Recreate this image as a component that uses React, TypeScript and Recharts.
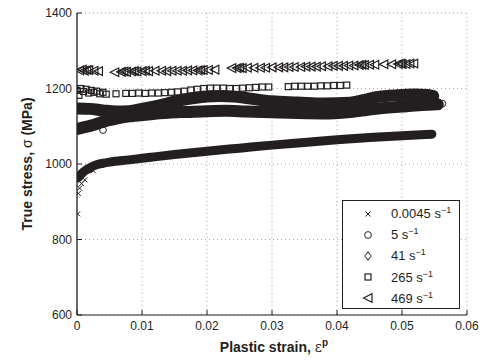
import { CartesianGrid, Label, Legend, Scatter, ScatterChart, XAxis, YAxis } from "recharts"

const INK = "#231f20"
const FONT = "'Liberation Sans', Arial, Helvetica, sans-serif"

const X_TICKS = [0, 0.01, 0.02, 0.03, 0.04, 0.05, 0.06]
const Y_TICKS = [600, 800, 1000, 1200, 1400]

// [plastic strain, true stress MPa]
// 0.0045 /s : dense band, plus a few scattered points at the very start
const rateSlowBand: [number, number][] = [
    [0, 962], [0.0003, 966], [0.0006, 972], [0.001, 979], [0.0015, 985], [0.002, 990],
    [0.003, 998], [0.004, 1002], [0.005, 1005], [0.008, 1011], [0.011, 1017], [0.015, 1025],
    [0.02, 1034], [0.025, 1042], [0.03, 1050], [0.035, 1057], [0.04, 1064], [0.045, 1070],
    [0.05, 1075], [0.0546, 1079],
]
const rateSlowScatter: [number, number][] = [
    [0.0001, 868], [0.0002, 922], [0.0004, 936], [0.0007, 948], [0.0012, 958], [0.0025, 982],
]

// 5 /s
const rate5Band: [number, number][] = [
    [0, 1093], [0.001, 1097], [0.002, 1101], [0.003, 1106], [0.004, 1112], [0.006, 1120],
    [0.008, 1126], [0.01, 1130], [0.012, 1133], [0.014, 1136], [0.017, 1138], [0.02, 1140],
    [0.023, 1141], [0.026, 1139], [0.03, 1137], [0.034, 1135], [0.038, 1134], [0.042, 1138],
    [0.046, 1146], [0.05, 1152], [0.053, 1156], [0.0555, 1158],
]
const rate5Scatter: [number, number][] = [
    [0.004, 1090], [0.0556, 1160], [0.0562, 1160],
]

// 41 /s
const rate41Band: [number, number][] = [
    [0, 1147], [0.002, 1146], [0.004, 1142], [0.006, 1139], [0.008, 1140], [0.01, 1146],
    [0.012, 1153], [0.014, 1161], [0.016, 1169], [0.018, 1175], [0.02, 1179], [0.022, 1180],
    [0.024, 1179], [0.026, 1175], [0.028, 1170], [0.03, 1166], [0.034, 1163], [0.038, 1160],
    [0.042, 1162], [0.044, 1169], [0.046, 1177], [0.048, 1181], [0.05, 1183], [0.052, 1184],
    [0.054, 1183], [0.0548, 1180],
]
const rate41Scatter: [number, number][] = [
    [0.0345, 1143], [0.0385, 1145],
]

// 265 /s
const rate265: [number, number][] = [
    [0, 1195], [0.0003, 1182], [0.0006, 1200], [0.001, 1192], [0.0014, 1198], [0.0018, 1188],
    [0.0022, 1195], [0.0026, 1190], [0.003, 1193], [0.0035, 1186], [0.004, 1190], [0.0045, 1185],
    [0.006, 1186], [0.0075, 1187], [0.0085, 1187], [0.0095, 1188], [0.0105, 1187], [0.0115, 1188],
    [0.0125, 1188], [0.0135, 1189], [0.0145, 1190], [0.0155, 1191], [0.0165, 1193], [0.0175, 1196],
    [0.0185, 1198], [0.0195, 1200], [0.0205, 1201], [0.0215, 1201], [0.0225, 1201], [0.0235, 1200],
    [0.0245, 1200], [0.0255, 1201], [0.0265, 1202], [0.0275, 1203], [0.0285, 1204], [0.0295, 1204],
    [0.0325, 1205], [0.0335, 1206], [0.0345, 1206], [0.0355, 1206], [0.0365, 1206], [0.0375, 1207],
    [0.0385, 1207], [0.0395, 1208], [0.0405, 1208], [0.0415, 1209],
]

// 469 /s
const rate469: [number, number][] = [
    [0.0004, 1248], [0.0008, 1250], [0.0011, 1247], [0.0015, 1249], [0.0018, 1249], [0.0026, 1247],
    [0.0033, 1246], [0.0058, 1243], [0.0068, 1244], [0.0072, 1245], [0.0076, 1244], [0.0084, 1245],
    [0.0088, 1246], [0.0092, 1245], [0.01, 1246], [0.0105, 1247], [0.011, 1246], [0.012, 1247],
    [0.013, 1247], [0.0138, 1246], [0.0146, 1247], [0.0154, 1247], [0.0162, 1247], [0.017, 1248],
    [0.0178, 1248], [0.0186, 1248], [0.019, 1249], [0.0194, 1249], [0.0202, 1249], [0.0212, 1250],
    [0.0238, 1254], [0.0246, 1254], [0.025, 1255], [0.0254, 1254], [0.0262, 1255], [0.0272, 1255],
    [0.0282, 1255], [0.029, 1255], [0.03, 1256], [0.031, 1256], [0.0318, 1256], [0.0326, 1257],
    [0.0334, 1257], [0.0344, 1257], [0.0352, 1258], [0.036, 1258], [0.0368, 1258], [0.0376, 1259],
    [0.0386, 1259], [0.0394, 1260], [0.0402, 1260], [0.041, 1260], [0.0418, 1261], [0.0426, 1261],
    [0.0434, 1262], [0.0438, 1263], [0.0442, 1262], [0.045, 1263], [0.0458, 1263], [0.0472, 1264],
    [0.0484, 1264], [0.0494, 1265], [0.0498, 1266], [0.05, 1265], [0.0506, 1265], [0.0512, 1266],
    [0.0518, 1266],
]

const toPoints = (rows: [number, number][]) => rows.map(([strain, stress]) => ({ strain, stress }))

/* ---------------- markers ---------------- */

function Cross({ cx, cy }: any) {
    const s = 2.5
    return (
        <path
            d={`M${cx - s},${cy - s}L${cx + s},${cy + s}M${cx - s},${cy + s}L${cx + s},${cy - s}`}
            stroke={INK}
            strokeWidth={1}
            fill="none"
        />
    )
}

function Ring({ cx, cy }: any) {
    return <circle cx={cx} cy={cy} r={3.4} fill="none" stroke={INK} strokeWidth={1} />
}

function Diamond({ cx, cy }: any) {
    return (
        <path
            d={`M${cx},${cy - 4.2}L${cx + 3.2},${cy}L${cx},${cy + 4.2}L${cx - 3.2},${cy}Z`}
            fill="none"
            stroke={INK}
            strokeWidth={1}
        />
    )
}

function Square({ cx, cy }: any) {
    return <rect x={cx - 3} y={cy - 3} width={6} height={6} fill="none" stroke={INK} strokeWidth={1.2} />
}

function TriLeft({ cx, cy }: any) {
    return (
        <path
            d={`M${cx - 4.5},${cy}L${cx + 4},${cy - 4.3}L${cx + 4},${cy + 4.3}Z`}
            fill="none"
            stroke={INK}
            strokeWidth={1.2}
        />
    )
}

function NoMarker() {
    return <g />
}

const LEGEND = [
    { rate: "0.0045", Shape: Cross },
    { rate: "5", Shape: Ring },
    { rate: "41", Shape: Diamond },
    { rate: "265", Shape: Square },
    { rate: "469", Shape: TriLeft },
]

function LegendBox() {
    return (
        <div
            style={{
                width: 118,
                height: 109,
                boxSizing: "border-box",
                border: `1px solid ${INK}`,
                background: "#fff",
                fontFamily: FONT,
                fontSize: 13,
                color: INK,
                paddingTop: 2,
            }}
        >
            {LEGEND.map(({ rate, Shape }) => (
                <div key={rate} style={{ display: "flex", alignItems: "center", height: 21.2 }}>
                    <svg width={48} height={14} style={{ flex: "none" }}>
                        <Shape cx={25} cy={7} />
                    </svg>
                    <span>
                        {rate} s<sup style={{ fontSize: 9, verticalAlign: "5px", lineHeight: 0 }}>−1</sup>
                    </span>
                </div>
            ))}
        </div>
    )
}

/* ---------------- axis ticks (inward, MATLAB-style box) ---------------- */

function LeftTick({ x, y, payload }: any) {
    return (
        <g>
            <line x1={x + 5} x2={x + 10} y1={y} y2={y} stroke={INK} />
            <text x={x} y={y} dy="0.35em" textAnchor="end" fontSize={12} fill={INK} fontFamily={FONT}>
                {payload.value}
            </text>
        </g>
    )
}

function BottomTick({ x, y, payload }: any) {
    const v = payload.value as number
    return (
        <g>
            <line x1={x} x2={x} y1={y - 6} y2={y - 11} stroke={INK} />
            <text x={x} y={y} dy="0.71em" textAnchor="middle" fontSize={12} fill={INK} fontFamily={FONT}>
                {v === 0 ? "0" : v.toFixed(2)}
            </text>
        </g>
    )
}

function RightTick({ x, y }: any) {
    return <line x1={x - 5} x2={x} y1={y} y2={y} stroke={INK} />
}

function TopTick({ x, y }: any) {
    return <line x1={x} x2={x} y1={y} y2={y + 5} stroke={INK} />
}

const bandLine = (w: number) => ({
    stroke: INK,
    strokeWidth: w,
    strokeLinecap: "round" as const,
    strokeLinejoin: "round" as const,
})

export default function App() {
    return (
        <div style={{ position: "absolute", left: 0, top: 0, width: 486, height: 361, background: "#fff" }}>
            <ScatterChart
                width={486}
                height={361}
                margin={{ top: 13, right: 19, bottom: 16, left: 17 }}
                style={{ fontFamily: FONT }}
            >
                <CartesianGrid strokeDasharray="1 3" stroke="#a8a8a8" />
                <XAxis
                    type="number"
                    dataKey="strain"
                    domain={[0, 0.06]}
                    ticks={X_TICKS}
                    interval={0}
                    height={30}
                    tickSize={0}
                    tickMargin={6}
                    tick={<BottomTick />}
                    axisLine={{ stroke: INK }}
                    allowDataOverflow
                >
                    <Label
                        content={({ viewBox }: any) => (
                            <text
                                x={viewBox.x + viewBox.width / 2 + 2}
                                y={352}
                                textAnchor="middle"
                                fontSize={14}
                                fontWeight="bold"
                                fill={INK}
                                fontFamily={FONT}
                            >
                                Plastic strain,{" "}
                                <tspan fontWeight="normal" fontFamily="'DejaVu Serif', serif" fontSize={14}>
                                    ε
                                </tspan>
                                <tspan dy={-6} fontSize={10}>
                                    p
                                </tspan>
                            </text>
                        )}
                    />
                </XAxis>
                <XAxis
                    xAxisId="top"
                    orientation="top"
                    type="number"
                    domain={[0, 0.06]}
                    ticks={X_TICKS}
                    interval={0}
                    height={0}
                    tickSize={0}
                    tickMargin={0}
                    tick={<TopTick />}
                    axisLine={{ stroke: INK }}
                />
                <YAxis
                    type="number"
                    dataKey="stress"
                    domain={[600, 1400]}
                    ticks={Y_TICKS}
                    interval={0}
                    width={60}
                    tickSize={0}
                    tickMargin={5}
                    tick={<LeftTick />}
                    axisLine={{ stroke: INK, strokeWidth: 1.3 }}
                    allowDataOverflow
                >
                    <Label
                        content={({ viewBox }: any) => {
                            const cx = viewBox.x + 10
                            const cy = viewBox.y + viewBox.height / 2
                            return (
                                <text
                                    x={cx}
                                    y={cy}
                                    transform={`rotate(-90 ${cx} ${cy})`}
                                    textAnchor="middle"
                                    dominantBaseline="central"
                                    fontSize={14}
                                    fontWeight="bold"
                                    fill={INK}
                                    fontFamily={FONT}
                                >
                                    True stress, <tspan fontWeight="normal">σ</tspan> (MPa)
                                </text>
                            )
                        }}
                    />
                </YAxis>
                <YAxis
                    yAxisId="right"
                    orientation="right"
                    type="number"
                    domain={[600, 1400]}
                    ticks={Y_TICKS}
                    interval={0}
                    width={0}
                    tickSize={0}
                    tickMargin={0}
                    tick={<RightTick />}
                    axisLine={{ stroke: INK }}
                />

                <Scatter
                    name="0.0045 s-1"
                    data={toPoints(rateSlowBand)}
                    fill={INK}
                    shape={<NoMarker />}
                    line={bandLine(9)}
                    lineJointType="monotoneX"
                    isAnimationActive={false}
                />
                <Scatter
                    name="0.0045 s-1 scatter"
                    data={toPoints(rateSlowScatter)}
                    fill={INK}
                    shape={<Cross />}
                    legendType="none"
                    isAnimationActive={false}
                />
                <Scatter
                    name="5 s-1"
                    data={toPoints(rate5Band)}
                    fill={INK}
                    shape={<NoMarker />}
                    line={bandLine(12)}
                    lineJointType="monotoneX"
                    isAnimationActive={false}
                />
                <Scatter
                    name="5 s-1 scatter"
                    data={toPoints(rate5Scatter)}
                    fill={INK}
                    shape={<Ring />}
                    legendType="none"
                    isAnimationActive={false}
                />
                <Scatter
                    name="41 s-1"
                    data={toPoints(rate41Band)}
                    fill={INK}
                    shape={<NoMarker />}
                    line={bandLine(12)}
                    lineJointType="monotoneX"
                    isAnimationActive={false}
                />
                <Scatter
                    name="41 s-1 scatter"
                    data={toPoints(rate41Scatter)}
                    fill={INK}
                    shape={<Diamond />}
                    legendType="none"
                    isAnimationActive={false}
                />
                <Scatter
                    name="265 s-1"
                    data={toPoints(rate265)}
                    fill={INK}
                    shape={<Square />}
                    isAnimationActive={false}
                />
                <Scatter
                    name="469 s-1"
                    data={toPoints(rate469)}
                    fill={INK}
                    shape={<TriLeft />}
                    isAnimationActive={false}
                />

                <Legend
                    layout="horizontal"
                    verticalAlign="middle"
                    align="center"
                    width={118}
                    height={109}
                    wrapperStyle={{ left: 342, top: 200, width: 118, height: 109 }}
                    content={() => <LegendBox />}
                />
            </ScatterChart>
        </div>
    )
}
